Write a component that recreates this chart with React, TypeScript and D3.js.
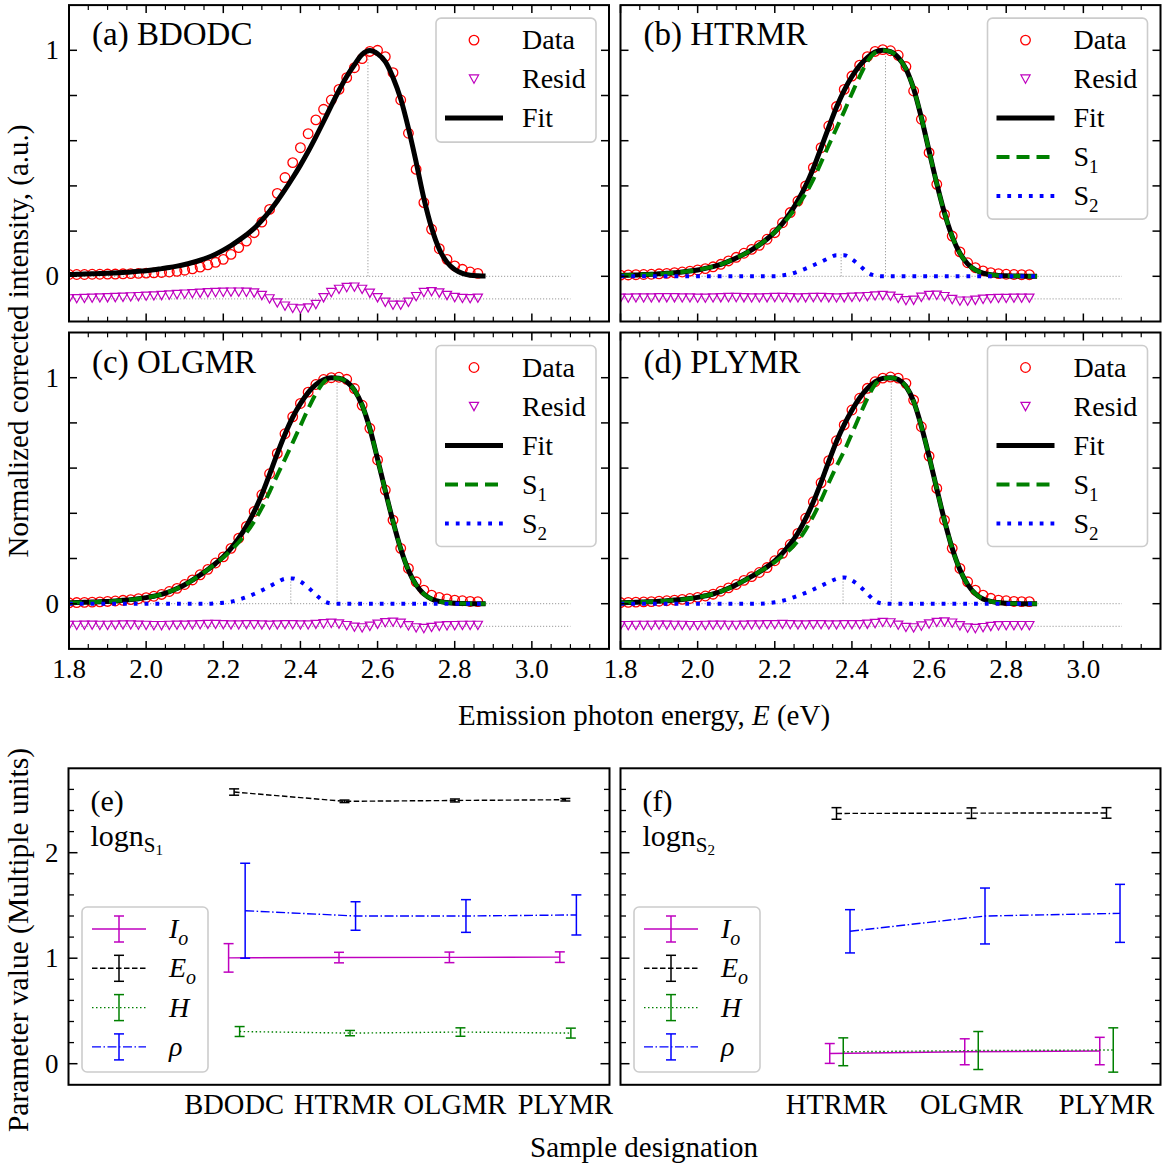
import React from 'react';
import * as d3 from 'd3';

// ---------------- data ----------------
const ENERGY = [1.80,1.82,1.84,1.86,1.88,1.90,1.92,1.94,1.96,1.98,
  2.00,2.02,2.04,2.06,2.08,2.10,2.12,2.14,2.16,2.18,
  2.20,2.22,2.24,2.26,2.28,2.30,2.32,2.34,2.36,2.38,
  2.40,2.42,2.44,2.46,2.48,2.50,2.52,2.54,2.56,2.58,
  2.60,2.62,2.64,2.66,2.68,2.70,2.72,2.74,2.76,2.78,
  2.80,2.82,2.84,2.86];
const ENERGY_FIT = [...ENERGY, 2.88];

const DATA_A = [0.008,0.008,0.008,0.009,0.009,0.010,0.010,0.011,0.012,0.013,
  0.014,0.015,0.017,0.019,0.022,0.027,0.033,0.041,0.051,0.062,
  0.075,0.097,0.127,0.156,0.193,0.240,0.296,0.367,0.437,0.503,
  0.569,0.631,0.692,0.739,0.780,0.827,0.879,0.923,0.963,0.995,
  1.000,0.972,0.901,0.780,0.633,0.473,0.326,0.208,0.122,0.075,
  0.046,0.031,0.019,0.013];
const RESID_A = [-0.100,-0.099,-0.098,-0.097,-0.096,-0.095,-0.094,-0.093,-0.091,-0.090,
  -0.088,-0.087,-0.085,-0.083,-0.081,-0.079,-0.077,-0.075,-0.073,-0.072,
  -0.071,-0.070,-0.070,-0.071,-0.074,-0.085,-0.100,-0.118,-0.132,-0.142,
  -0.145,-0.140,-0.125,-0.095,-0.072,-0.058,-0.050,-0.048,-0.058,-0.075,
  -0.095,-0.115,-0.128,-0.128,-0.115,-0.090,-0.072,-0.068,-0.074,-0.085,
  -0.094,-0.098,-0.099,-0.097];
const FIT_A = [0.008,0.009,0.010,0.011,0.012,0.013,0.015,0.017,0.019,0.022,
  0.025,0.029,0.034,0.039,0.045,0.052,0.061,0.071,0.083,0.098,
  0.116,0.136,0.159,0.184,0.212,0.248,0.288,0.333,0.383,0.436,
  0.492,0.552,0.617,0.685,0.755,0.822,0.884,0.936,0.982,0.999,
  0.985,0.950,0.880,0.785,0.655,0.505,0.345,0.215,0.120,0.062,
  0.030,0.013,0.005,0.002,0.001];

const DATA_B = [0.005,0.006,0.007,0.008,0.009,0.011,0.013,0.016,0.019,0.023,
  0.028,0.034,0.042,0.053,0.068,0.084,0.102,0.119,0.137,0.164,
  0.193,0.237,0.282,0.333,0.400,0.481,0.569,0.665,0.751,0.827,
  0.886,0.934,0.972,0.995,1.003,0.998,0.978,0.928,0.820,0.695,
  0.547,0.407,0.274,0.178,0.108,0.060,0.038,0.024,0.016,0.012,
  0.009,0.008,0.007,0.007];
const RESID_B = [-0.097,-0.097,-0.096,-0.096,-0.096,-0.095,-0.095,-0.095,-0.096,-0.096,
  -0.097,-0.097,-0.096,-0.095,-0.094,-0.094,-0.095,-0.096,-0.096,-0.095,
  -0.094,-0.094,-0.095,-0.096,-0.095,-0.094,-0.094,-0.095,-0.096,-0.095,
  -0.093,-0.092,-0.090,-0.087,-0.085,-0.088,-0.098,-0.108,-0.106,-0.093,
  -0.085,-0.084,-0.090,-0.103,-0.110,-0.110,-0.106,-0.102,-0.099,-0.098,
  -0.098,-0.097,-0.097,-0.097];
const FIT_B = [0.004,0.005,0.006,0.008,0.009,0.011,0.013,0.016,0.019,0.023,
  0.028,0.035,0.043,0.053,0.066,0.081,0.098,0.117,0.139,0.165,
  0.196,0.234,0.280,0.335,0.400,0.478,0.568,0.660,0.748,0.823,
  0.884,0.932,0.968,0.992,1.000,0.994,0.968,0.918,0.830,0.702,
  0.555,0.410,0.280,0.176,0.102,0.055,0.028,0.014,0.007,0.004,
  0.002,0.001,0.001,0.000,0.000];
const S2_B = [0,0,0,0,0,0,0,0,0,0,
  0,0,0,0,0,0,0,0,0,0,
  0.000,0.004,0.010,0.021,0.034,0.049,0.064,0.080,0.093,0.093,
  0.075,0.048,0.018,0.003,0,0,0,0,0,0,
  0,0,0,0,0,0,0,0,0,0,
  0,0,0,0,0];

const DATA_C = [0.004,0.005,0.006,0.007,0.008,0.010,0.012,0.015,0.018,0.022,
  0.027,0.033,0.041,0.054,0.068,0.085,0.105,0.128,0.152,0.180,
  0.207,0.245,0.290,0.342,0.408,0.482,0.575,0.665,0.752,0.827,
  0.886,0.936,0.970,0.992,1.000,1.002,0.993,0.952,0.878,0.776,
  0.636,0.503,0.370,0.245,0.156,0.097,0.060,0.038,0.028,0.021,
  0.016,0.013,0.010,0.009];
const RESID_C = [-0.096,-0.096,-0.095,-0.095,-0.096,-0.096,-0.095,-0.094,-0.094,-0.095,
  -0.096,-0.097,-0.097,-0.096,-0.095,-0.095,-0.094,-0.093,-0.092,-0.092,
  -0.093,-0.094,-0.094,-0.093,-0.093,-0.094,-0.095,-0.094,-0.093,-0.093,
  -0.094,-0.094,-0.092,-0.089,-0.087,-0.090,-0.097,-0.104,-0.107,-0.100,
  -0.091,-0.084,-0.082,-0.087,-0.098,-0.107,-0.110,-0.105,-0.100,-0.098,
  -0.097,-0.096,-0.096,-0.096];
const FIT_C = [0.004,0.005,0.006,0.007,0.009,0.010,0.012,0.015,0.018,0.022,
  0.027,0.033,0.041,0.053,0.067,0.084,0.104,0.127,0.151,0.178,
  0.208,0.245,0.290,0.343,0.407,0.483,0.572,0.664,0.750,0.825,
  0.885,0.934,0.969,0.991,1.000,0.998,0.982,0.945,0.878,0.775,
  0.640,0.500,0.364,0.243,0.148,0.083,0.043,0.021,0.010,0.005,
  0.002,0.001,0.000,0.000,0.000];
const S2_C = [0,0,0,0,0,0,0,0,0,0,
  0,0,0,0,0,0,0,0,0,0.002,
  0.004,0.009,0.018,0.029,0.043,0.059,0.077,0.095,0.110,0.112,
  0.098,0.072,0.040,0.012,0.001,0,0,0,0,0,
  0,0,0,0,0,0,0,0,0,0,
  0,0,0,0,0];

const DATA_D = [0.005,0.006,0.007,0.008,0.009,0.011,0.013,0.016,0.019,0.023,
  0.028,0.034,0.042,0.055,0.070,0.085,0.103,0.120,0.138,0.160,
  0.190,0.223,0.262,0.311,0.378,0.451,0.535,0.633,0.721,0.791,
  0.857,0.909,0.953,0.982,0.998,1.003,0.998,0.975,0.901,0.783,
  0.653,0.510,0.370,0.245,0.156,0.097,0.060,0.038,0.024,0.016,
  0.013,0.010,0.009,0.009];
const RESID_D = [-0.097,-0.097,-0.096,-0.096,-0.096,-0.095,-0.095,-0.096,-0.096,-0.097,
  -0.097,-0.096,-0.095,-0.095,-0.096,-0.096,-0.095,-0.094,-0.094,-0.093,
  -0.093,-0.092,-0.093,-0.094,-0.094,-0.093,-0.093,-0.094,-0.094,-0.093,
  -0.093,-0.093,-0.091,-0.088,-0.083,-0.085,-0.095,-0.105,-0.107,-0.099,
  -0.090,-0.083,-0.081,-0.086,-0.098,-0.108,-0.110,-0.106,-0.101,-0.098,
  -0.097,-0.097,-0.097,-0.097];
const FIT_D = [0.004,0.005,0.006,0.008,0.009,0.011,0.013,0.016,0.019,0.023,
  0.028,0.035,0.043,0.054,0.068,0.084,0.102,0.121,0.141,0.163,
  0.190,0.224,0.264,0.313,0.376,0.451,0.537,0.630,0.718,0.792,
  0.856,0.910,0.952,0.982,0.997,1.000,0.992,0.962,0.895,0.785,
  0.652,0.508,0.368,0.245,0.150,0.085,0.044,0.021,0.010,0.005,
  0.002,0.001,0.000,0.000,0.000];
const S2_D = [0,0,0,0,0,0,0,0,0,0,
  0,0,0,0,0,0,0,0,0,0.002,
  0.006,0.013,0.023,0.035,0.048,0.063,0.079,0.095,0.110,0.116,
  0.103,0.078,0.044,0.012,0.001,0,0,0,0,0,
  0,0,0,0,0,0,0,0,0,0,
  0,0,0,0,0];

// lognormal parameters (panels e, f)
const CATS_S1 = ['BDODC', 'HTRMR', 'OLGMR', 'PLYMR'];
const IO_S1 = [1.003, 1.006, 1.008, 1.010];
const IO_S1_ERR = [0.135, 0.05, 0.05, 0.05];
const EO_S1 = [2.575, 2.487, 2.495, 2.502];
const EO_S1_ERR = [0.03, 0.012, 0.014, 0.012];
const H_S1 = [0.305, 0.29, 0.30, 0.29];
const H_S1_ERR = [0.047, 0.025, 0.04, 0.047];
const RHO_S1 = [1.45, 1.40, 1.40, 1.41];
const RHO_S1_ERR = [0.45, 0.135, 0.155, 0.19];

const CATS_S2 = ['HTRMR', 'OLGMR', 'PLYMR'];
const IO_S2 = [0.097, 0.113, 0.12];
const IO_S2_ERR = [0.094, 0.123, 0.13];
const EO_S2 = [2.372, 2.375, 2.377];
const EO_S2_ERR = [0.055, 0.05, 0.05];
const H_S2 = [0.113, 0.125, 0.13];
const H_S2_ERR = [0.132, 0.18, 0.21];
const RHO_S2 = [1.255, 1.40, 1.425];
const RHO_S2_ERR = [0.205, 0.265, 0.275];

const X_MAJOR = ['1.8', '2.0', '2.2', '2.4', '2.6', '2.8', '3.0'];

// ---------------- styles ----------------
const FONT = "'Liberation Serif', 'Times New Roman', serif";
const MAGENTA = '#bf00bf';
const RED = '#ff0000';
const GREEN = '#008000';
const BLUE = '#0000ff';

const SPECTRA = [
  { key: 'a', tag: '(a)', name: 'BDODC', data: DATA_A, resid: RESID_A, fit: FIT_A, s2: null as number[] | null, eo1: EO_S1[0], io1: IO_S1[0], eo2: 0, io2: 0 },
  { key: 'b', tag: '(b)', name: 'HTRMR', data: DATA_B, resid: RESID_B, fit: FIT_B, s2: S2_B, eo1: EO_S1[1], io1: IO_S1[1], eo2: EO_S2[0], io2: IO_S2[0] },
  { key: 'c', tag: '(c)', name: 'OLGMR', data: DATA_C, resid: RESID_C, fit: FIT_C, s2: S2_C, eo1: EO_S1[2], io1: IO_S1[2], eo2: EO_S2[1], io2: IO_S2[1] },
  { key: 'd', tag: '(d)', name: 'PLYMR', data: DATA_D, resid: RESID_D, fit: FIT_D, s2: S2_D, eo1: EO_S1[3], io1: IO_S1[3], eo2: EO_S2[2], io2: IO_S2[2] },
];

const COLS: [number, number][] = [[69, 609], [620.5, 1160.5]];
const ROWS: [number, number][] = [[321.5, 5.1], [648.9, 332.5]];

const tri = (cx: number, cy: number, s = 4.6) =>
  `M${cx - s},${cy - s * 0.9}L${cx + s},${cy - s * 0.9}L${cx},${cy + s * 0.9}Z`;

function SpectrumPanel({ spec, xr, yr, showX, showY }: any) {
  const x = d3.scaleLinear().domain([1.8, 3.2]).range(xr);
  const y = d3.scaleLinear().domain([-0.2, 1.2]).range(yr);
  const [x0, x1] = xr;
  const [yb, yt] = yr;
  const clip = `clip-${spec.key}`;
  const line = d3.line<number>().x((_, i) => x(ENERGY_FIT[i])).y(v => y(v)).curve(d3.curveMonotoneX);
  const s1 = spec.s2 ? spec.fit.map((v: number, i: number) => v - spec.s2[i]) : null;
  const majorVals = X_MAJOR.map(Number);
  const minorX = d3.range(37, 64).map(k => k * 0.05).filter(v => !majorVals.some(m => Math.abs(m - v) < 1e-6));
  const yTicks = [0, 0.2, 0.4, 0.6, 0.8, 1.0];
  const grey = '#9a9a9a';

  const lx = x1 - 173, ly = yt + 13;
  const nRows = spec.s2 ? 5 : 3;
  const lh = spec.s2 ? 201 : 124;
  const rowY = (i: number) => ly + 22 + i * 39;
  const legendRows: any[] = [
    { kind: 'circle', label: <>Data</> },
    { kind: 'tri', label: <>Resid</> },
    { kind: 'fit', label: <>Fit</> },
    { kind: 's1', label: <>S<tspan dy={7} fontSize={19}>1</tspan></> },
    { kind: 's2', label: <>S<tspan dy={7} fontSize={19}>2</tspan></> },
  ].slice(0, nRows);

  return (
    <g>
      <defs>
        <clipPath id={clip}><rect x={x0} y={yt} width={x1 - x0} height={yb - yt} /></clipPath>
      </defs>
      <g clipPath={`url(#${clip})`}>
        <line x1={x(1.8)} x2={x(3.1)} y1={y(0)} y2={y(0)} stroke={grey} strokeWidth={1} strokeDasharray="1.2,1.8" />
        <line x1={x(1.8)} x2={x(3.1)} y1={y(-0.1)} y2={y(-0.1)} stroke={grey} strokeWidth={1} strokeDasharray="1.2,1.8" />
        <line x1={x(spec.eo1)} x2={x(spec.eo1)} y1={y(0)} y2={y(spec.io1)} stroke={grey} strokeWidth={1} strokeDasharray="1.2,1.8" />
        {spec.s2 && <line x1={x(spec.eo2)} x2={x(spec.eo2)} y1={y(0)} y2={y(spec.io2)} stroke={grey} strokeWidth={1} strokeDasharray="1.2,1.8" />}
        {spec.data.map((v: number, i: number) => (
          <circle key={`d${i}`} cx={x(ENERGY[i])} cy={y(v)} r={4.8} fill="none" stroke={RED} strokeWidth={1.3} />
        ))}
        {spec.resid.map((v: number, i: number) => (
          <path key={`r${i}`} d={tri(x(ENERGY[i]), y(v))} fill="none" stroke={MAGENTA} strokeWidth={1.2} />
        ))}
        <path d={line(spec.fit) || ''} fill="none" stroke="#000" strokeWidth={5} />
        {s1 && <path d={line(s1) || ''} fill="none" stroke={GREEN} strokeWidth={4} strokeDasharray="13,7" />}
        {spec.s2 && <path d={line(spec.s2) || ''} fill="none" stroke={BLUE} strokeWidth={4} strokeDasharray="3.8,7" />}
      </g>
      {majorVals.map(v => (
        <g key={`mx${v}`}>
          <line x1={x(v)} x2={x(v)} y1={yb} y2={yb - 8} stroke="#000" strokeWidth={1.5} />
          <line x1={x(v)} x2={x(v)} y1={yt} y2={yt + 8} stroke="#000" strokeWidth={1.5} />
        </g>
      ))}
      {minorX.map(v => (
        <g key={`nx${v}`}>
          <line x1={x(v)} x2={x(v)} y1={yb} y2={yb - 4.8} stroke="#000" strokeWidth={1.2} />
          <line x1={x(v)} x2={x(v)} y1={yt} y2={yt + 4.8} stroke="#000" strokeWidth={1.2} />
        </g>
      ))}
      {yTicks.map(v => (
        <g key={`y${v}`}>
          <line x1={x0} x2={x0 + 8} y1={y(v)} y2={y(v)} stroke="#000" strokeWidth={1.5} />
          <line x1={x1} x2={x1 - 8} y1={y(v)} y2={y(v)} stroke="#000" strokeWidth={1.5} />
        </g>
      ))}
      {showX && X_MAJOR.map(t => (
        <text key={`tx${t}`} x={x(Number(t))} y={yb + 29} fontSize={27} textAnchor="middle">{t}</text>
      ))}
      {showY && [0, 1].map(v => (
        <text key={`ty${v}`} x={x0 - 10} y={y(v) + 9} fontSize={27} textAnchor="end">{v}</text>
      ))}
      <text x={x0 + 23} y={yt + 40} fontSize={33}>{spec.tag} {spec.name}</text>
      <rect x={lx} y={ly} width={160} height={lh} rx={5} fill="#fff" fillOpacity={0.85} stroke="#cccccc" strokeWidth={1.6} />
      {legendRows.map((r, i) => {
        const cy = rowY(i);
        return (
          <g key={r.kind}>
            {r.kind === 'circle' && <circle cx={lx + 38} cy={cy} r={4.8} fill="none" stroke={RED} strokeWidth={1.3} />}
            {r.kind === 'tri' && <path d={tri(lx + 38, cy)} fill="none" stroke={MAGENTA} strokeWidth={1.2} />}
            {r.kind === 'fit' && <line x1={lx + 9} x2={lx + 67} y1={cy} y2={cy} stroke="#000" strokeWidth={5} />}
            {r.kind === 's1' && <line x1={lx + 9} x2={lx + 67} y1={cy} y2={cy} stroke={GREEN} strokeWidth={4} strokeDasharray="13,7" />}
            {r.kind === 's2' && <line x1={lx + 9} x2={lx + 67} y1={cy} y2={cy} stroke={BLUE} strokeWidth={4} strokeDasharray="3.8,7" />}
            <text x={lx + 86} y={cy + 9} fontSize={28}>{r.label}</text>
          </g>
        );
      })}
      <rect x={x0} y={yt} width={x1 - x0} height={yb - yt} fill="none" stroke="#000" strokeWidth={2} />
    </g>
  );
}

const OFFSETS = [-0.05, 0, 0.05, 0.1];

function ParamPanel({ xr, domain, cats, tag, subDigit, series, showY }: any) {
  const x = d3.scaleLinear().domain(domain).range(xr);
  const y = d3.scaleLinear().domain([-0.2, 2.8]).range([1084.8, 768.3]);
  const [x0, x1] = xr;
  const yb = 1084.8, yt = 768.3;
  const major = [0, 1, 2];
  const minor = [0.2, 0.4, 0.6, 0.8, 1.2, 1.4, 1.6, 1.8, 2.2, 2.4, 2.6];
  const bx = x0 + 13.5, by = 907;
  const cap = 5;
  const labels = [
    <><tspan fontStyle="italic">I</tspan><tspan fontStyle="italic" dy={7} fontSize={20}>o</tspan></>,
    <><tspan fontStyle="italic">E</tspan><tspan fontStyle="italic" dy={7} fontSize={20}>o</tspan></>,
    <tspan fontStyle="italic">H</tspan>,
    <tspan fontStyle="italic">ρ</tspan>,
  ];
  return (
    <g>
      {series.map((s: any, si: number) => {
        const line = d3.line<number>().x((_, i) => x(i + OFFSETS[si])).y(v => y(v));
        return (
          <g key={si}>
            <path d={line(s.vals) || ''} fill="none" stroke={s.color} strokeWidth={1.4} strokeDasharray={s.dash} />
            {s.vals.map((v: number, i: number) => {
              const cx = x(i + OFFSETS[si]);
              const lo = y(v - s.errs[i]), hi = y(v + s.errs[i]);
              return (
                <g key={i} stroke={s.color} strokeWidth={1.5}>
                  <line x1={cx} x2={cx} y1={lo} y2={hi} />
                  <line x1={cx - cap} x2={cx + cap} y1={lo} y2={lo} />
                  <line x1={cx - cap} x2={cx + cap} y1={hi} y2={hi} />
                </g>
              );
            })}
          </g>
        );
      })}
      {major.map(v => (
        <g key={`M${v}`}>
          <line x1={x0} x2={x0 + 9} y1={y(v)} y2={y(v)} stroke="#000" strokeWidth={1.5} />
          <line x1={x1} x2={x1 - 9} y1={y(v)} y2={y(v)} stroke="#000" strokeWidth={1.5} />
        </g>
      ))}
      {minor.map(v => (
        <g key={`m${v}`}>
          <line x1={x0} x2={x0 + 5.5} y1={y(v)} y2={y(v)} stroke="#000" strokeWidth={1.3} />
          <line x1={x1} x2={x1 - 5.5} y1={y(v)} y2={y(v)} stroke="#000" strokeWidth={1.3} />
        </g>
      ))}
      {showY && major.map(v => (
        <text key={`t${v}`} x={x0 - 10} y={y(v) + 9} fontSize={27} textAnchor="end">{v}</text>
      ))}
      {cats.map((c: string, i: number) => (
        <text key={c} x={x(i)} y={1114} fontSize={28.5} textAnchor="middle">{c}</text>
      ))}
      <text x={x0 + 22} y={811} fontSize={30}>{tag}</text>
      <text x={x0 + 22} y={846} fontSize={30}>logn<tspan dy={6} fontSize={21}>S</tspan><tspan dy={3} fontSize={15}>{subDigit}</tspan></text>
      <rect x={bx} y={by} width={126} height={165} rx={5} fill="#fff" fillOpacity={0.85} stroke="#cccccc" strokeWidth={1.6} />
      {series.map((s: any, i: number) => {
        const cy = by + 22 + i * 39.3;
        return (
          <g key={`lg${i}`}>
            <line x1={bx + 10} x2={bx + 64} y1={cy} y2={cy} stroke={s.color} strokeWidth={1.4} strokeDasharray={s.dash} />
            <g stroke={s.color} strokeWidth={1.5}>
              <line x1={bx + 37} x2={bx + 37} y1={cy - 13} y2={cy + 13} />
              <line x1={bx + 37 - cap} x2={bx + 37 + cap} y1={cy - 13} y2={cy - 13} />
              <line x1={bx + 37 - cap} x2={bx + 37 + cap} y1={cy + 13} y2={cy + 13} />
            </g>
            <text x={bx + 87} y={cy + 9} fontSize={28}>{labels[i]}</text>
          </g>
        );
      })}
      <rect x={x0} y={yt} width={x1 - x0} height={yb - yt} fill="none" stroke="#000" strokeWidth={2} />
    </g>
  );
}

export default function App() {
  const seriesS1 = [
    { vals: IO_S1, errs: IO_S1_ERR, color: MAGENTA, dash: undefined },
    { vals: EO_S1, errs: EO_S1_ERR, color: '#000', dash: '5.5,2.5' },
    { vals: H_S1, errs: H_S1_ERR, color: GREEN, dash: '1.5,2.5' },
    { vals: RHO_S1, errs: RHO_S1_ERR, color: BLUE, dash: '9,2.5,1.5,2.5' },
  ];
  const seriesS2 = [
    { vals: IO_S2, errs: IO_S2_ERR, color: MAGENTA, dash: undefined },
    { vals: EO_S2, errs: EO_S2_ERR, color: '#000', dash: '5.5,2.5' },
    { vals: H_S2, errs: H_S2_ERR, color: GREEN, dash: '1.5,2.5' },
    { vals: RHO_S2, errs: RHO_S2_ERR, color: BLUE, dash: '9,2.5,1.5,2.5' },
  ];
  return (
    <svg width={1169} height={1168} style={{ position: 'absolute', left: 0, top: 0, background: '#fff' }}
      fontFamily={FONT} fill="#000">
      <rect x={0} y={0} width={1169} height={1168} fill="#fff" />
      {SPECTRA.map((s, i) => (
        <SpectrumPanel key={s.key} spec={s} xr={COLS[i % 2]} yr={ROWS[Math.floor(i / 2)]}
          showX={i >= 2} showY={i % 2 === 0} />
      ))}
      <ParamPanel xr={[68.5, 609.5]} domain={[-1.5, 3.4]} cats={CATS_S1} tag="(e)" subDigit="1" series={seriesS1} showY />
      <ParamPanel xr={[620.5, 1160.5]} domain={[-1.6, 2.4]} cats={CATS_S2} tag="(f)" subDigit="2" series={seriesS2} showY={false} />
      <text x={644} y={725} fontSize={29} textAnchor="middle">Emission photon energy, <tspan fontStyle="italic">E</tspan> (eV)</text>
      <text x={644} y={1157} fontSize={29} textAnchor="middle">Sample designation</text>
      <text transform="translate(28,341) rotate(-90)" fontSize={29} textAnchor="middle">Normalized corrected intensity, (a.u.)</text>
      <text transform="translate(28,940) rotate(-90)" fontSize={29.5} textAnchor="middle">Parameter value (Multiple units)</text>
    </svg>
  );
}
